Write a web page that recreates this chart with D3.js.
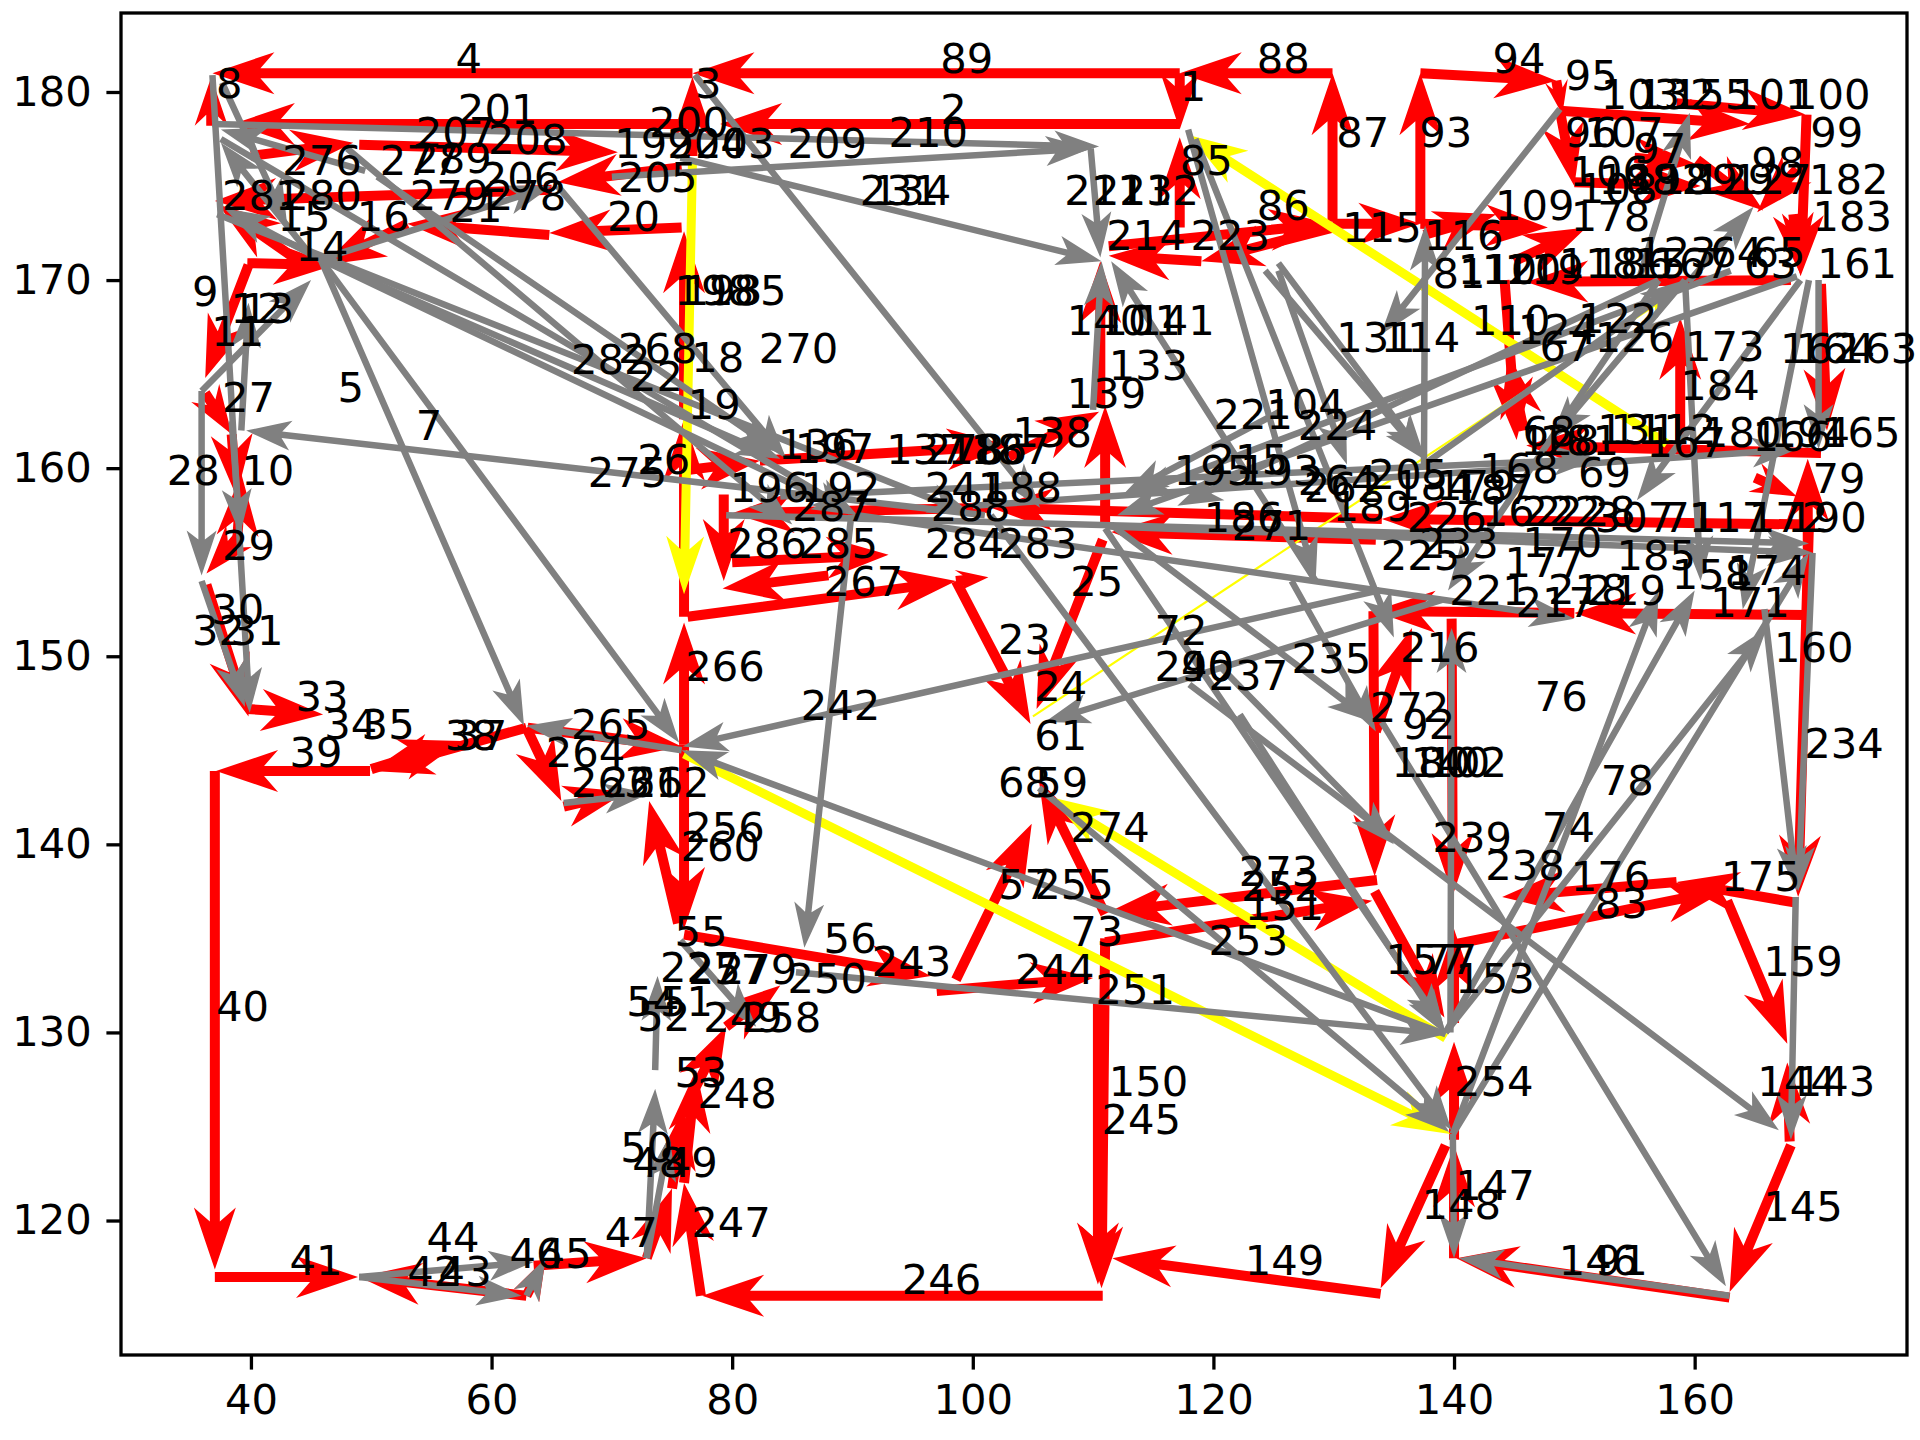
<!DOCTYPE html>
<html>
<head>
<meta charset="utf-8">
<script src="https://cdn.jsdelivr.net/npm/d3@7"></script>
<style>
  body { margin: 0; background: #fff; }
  text { font-family: "DejaVu Sans", sans-serif; }
</style>
</head>
<body>
<div id="root"></div>
<script>
var config = {
  width: 1920,
  height: 1440,
  left: 121,
  right: 1907,
  top: 13,
  bottom: 1355,
  fontSize: 41.7
};

const xDomain = [29.2, 177.65];
const yDomain = [112.85, 184.2];
const xTicks = [40, 60, 80, 100, 120, 140, 160];
const yTicks = [120, 130, 140, 150, 160, 170, 180];

// route arrows: [x0, y0, x1, y1], head at (x1, y1)
const redArrows = [
  [76.7, 181.0, 36.8, 181.0], [117.2, 181.0, 76.7, 181.0], [129.9, 181.0, 117.2, 181.0],
  [129.9, 173.1, 129.9, 181.0], [137.2, 173.0, 137.2, 181.0], [137.2, 181.0, 148.5, 180.6],
  [148.5, 180.6, 149.0, 178.8], [117.2, 181.0, 117.2, 178.0], [117.2, 178.3, 79.0, 178.3],
  [76.7, 178.3, 38.5, 178.3], [36.7, 178.2, 36.7, 180.8], [76.7, 176.6, 76.7, 180.8],
  [117.2, 172.8, 117.2, 177.6],
  [148.8, 179.0, 164.6, 178.3], [158.5, 179.4, 169.2, 178.8], [169.3, 178.8, 168.8, 170.2],
  [160.2, 176.4, 165.7, 173.7], [168.5, 175.9, 165.2, 173.6], [148.8, 179.0, 150.0, 175.0],
  [150.0, 175.2, 160.5, 175.0], [155.0, 176.5, 160.0, 176.2], [168.2, 173.5, 168.8, 170.3],
  [145.0, 171.0, 151.0, 172.8], [130.0, 172.8, 119.0, 171.0], [119.0, 171.0, 111.3, 171.3],
  [111.3, 171.8, 129.8, 173.0], [129.9, 173.0, 137.2, 173.0], [137.2, 173.0, 147.8, 172.8],
  [137.5, 172.4, 143.5, 173.5], [168.0, 170.0, 146.0, 169.9], [144.2, 170.0, 145.2, 161.5],
  [145.8, 162.0, 144.5, 166.0], [158.8, 161.3, 158.8, 168.0], [170.5, 160.8, 146.0, 161.2],
  [170.5, 169.8, 171.0, 162.0], [165.0, 159.5, 168.5, 158.5],
  [40.0, 176.6, 48.5, 177.3], [49.0, 177.2, 70.5, 176.8], [75.8, 176.0, 65.5, 175.2],
  [65.0, 174.8, 37.0, 174.2], [75.8, 172.8, 64.8, 172.5], [64.8, 172.4, 53.0, 173.0],
  [53.0, 173.0, 46.0, 170.8], [39.7, 170.9, 47.0, 170.8], [44.0, 171.0, 37.3, 174.0],
  [39.8, 170.8, 36.2, 164.8], [36.2, 164.0, 38.4, 161.8], [38.4, 161.8, 38.8, 158.5],
  [38.8, 155.5, 39.2, 159.7], [39.0, 156.4, 36.3, 154.4], [36.3, 153.8, 39.8, 146.8],
  [76.0, 152.1, 76.0, 162.6], [76.0, 162.6, 76.0, 172.6], [76.0, 145.3, 76.0, 151.8],
  [76.3, 159.9, 82.3, 160.4], [82.3, 160.4, 103.0, 161.2], [79.3, 158.6, 79.3, 154.0],
  [101.5, 157.9, 80.0, 157.6], [80.0, 155.0, 93.0, 155.4], [88.0, 154.3, 79.2, 153.6],
  [76.3, 152.1, 98.6, 154.0], [98.6, 154.0, 101.3, 154.2],
  [98.6, 154.0, 104.8, 146.4], [110.8, 156.2, 105.3, 147.2], [103.0, 160.6, 110.5, 163.0],
  [111.0, 156.9, 111.0, 163.3], [110.6, 163.3, 110.6, 171.0], [134.0, 157.3, 101.5, 157.9],
  [170.0, 157.0, 134.0, 157.3], [133.5, 156.2, 111.5, 156.6], [169.4, 152.1, 169.4, 160.5],
  [169.4, 152.2, 150.0, 152.3], [150.0, 152.3, 133.3, 152.4], [133.3, 152.4, 133.4, 138.3],
  [139.8, 152.0, 139.9, 137.3], [133.5, 146.0, 136.5, 151.5], [133.4, 137.5, 139.2, 130.8],
  [140.0, 130.5, 140.0, 135.5], [140.0, 124.3, 140.0, 129.5], [133.6, 138.1, 111.3, 136.4],
  [111.0, 134.8, 133.2, 137.0], [111.0, 136.3, 105.5, 143.4], [98.6, 132.8, 104.9, 141.1],
  [76.0, 135.2, 96.5, 133.0], [97.0, 132.2, 110.0, 132.9], [111.0, 135.0, 110.7, 116.4],
  [110.4, 131.6, 110.4, 116.6], [110.8, 116.0, 77.5, 116.0], [77.4, 116.0, 76.0, 122.0],
  [133.9, 116.1, 111.6, 118.0], [139.3, 124.0, 133.9, 116.4], [140.0, 118.0, 140.0, 124.0],
  [162.9, 115.9, 140.2, 118.0], [168.0, 124.0, 162.9, 116.2], [162.7, 137.0, 167.7, 129.4],
  [167.9, 124.2, 167.7, 128.4], [140.1, 134.7, 162.7, 137.6], [168.4, 136.9, 158.5, 138.0],
  [158.5, 138.0, 144.0, 137.2], [169.5, 157.0, 168.6, 137.2],
  [37.0, 143.9, 37.0, 117.4], [37.0, 117.0, 48.9, 117.0], [62.9, 116.0, 49.0, 117.0],
  [62.9, 116.0, 64.5, 118.0], [63.5, 117.6, 72.9, 118.0], [72.9, 118.0, 75.0, 121.7],
  [75.0, 121.7, 76.0, 126.0], [76.5, 126.5, 79.5, 130.3], [79.5, 130.3, 84.0, 132.5],
  [76.0, 122.0, 77.0, 128.0], [39.7, 147.2, 46.0, 146.9], [49.9, 143.9, 37.1, 143.9],
  [62.9, 146.2, 50.0, 143.9], [50.0, 144.0, 57.5, 145.5], [62.9, 146.2, 65.8, 142.3],
  [66.0, 142.0, 71.2, 142.8], [63.0, 146.2, 75.8, 145.2], [75.5, 135.8, 73.1, 142.3],
  [76.0, 145.3, 76.0, 135.5]
];

const yellowArrows = [
  [157.7, 161.3, 118.0, 177.7], [76.0, 144.8, 139.7, 124.6],
  [139.3, 129.7, 106.5, 142.5], [76.7, 176.4, 76.0, 153.3]
];

const yellowThin = [
  [105.0, 146.8, 157.5, 169.0]
];

const grayArrows = [
  [36.8, 180.9, 39.9, 147.0], [37.6, 180.5, 43.0, 173.0], [35.9, 164.1, 45.0, 170.0],
  [35.9, 164.1, 35.9, 154.3], [39.2, 162.0, 39.8, 168.8], [38.4, 162.5, 39.1, 156.5],
  [35.9, 154.0, 39.5, 147.3], [36.8, 178.3, 110.5, 177.1], [45.8, 171.1, 62.7, 146.3],
  [45.8, 171.1, 75.6, 145.4], [45.8, 171.1, 90.4, 157.5], [45.8, 171.1, 84.0, 160.5],
  [101.0, 157.5, 39.6, 162.0], [37.5, 177.5, 90.4, 157.5], [37.2, 173.5, 100.0, 157.5],
  [45.8, 171.1, 65.0, 175.0], [65.5, 175.0, 84.5, 160.5], [48.0, 177.0, 85.0, 157.0],
  [50.5, 175.5, 84.0, 160.8], [45.8, 171.1, 37.8, 173.8], [45.0, 171.3, 37.5, 177.3],
  [49.5, 175.8, 37.5, 178.0], [76.9, 180.9, 105.6, 157.9], [75.7, 176.5, 110.7, 171.0],
  [70.0, 175.5, 109.8, 177.0], [109.8, 177.0, 110.6, 171.2], [110.0, 163.1, 110.7, 171.0],
  [128.5, 154.0, 111.5, 171.0], [117.9, 178.0, 128.5, 154.0], [118.5, 177.5, 135.0, 151.0],
  [85.3, 133.2, 139.3, 129.9], [139.3, 129.9, 75.8, 145.0], [133.8, 153.5, 75.9, 145.2],
  [105.5, 143.0, 139.6, 124.7], [139.3, 130.0, 160.0, 153.5], [139.3, 130.0, 166.0, 151.5],
  [139.7, 130.0, 139.8, 151.5], [139.9, 124.6, 157.0, 153.5], [139.9, 124.6, 169.5, 155.5],
  [139.9, 124.6, 140.0, 118.0], [169.8, 155.5, 168.6, 137.5], [165.8, 152.5, 168.5, 137.5],
  [118.0, 148.5, 167.0, 124.8], [134.0, 146.5, 162.6, 116.5], [111.0, 156.8, 139.2, 130.2],
  [162.9, 116.0, 140.4, 118.0], [168.4, 137.2, 168.0, 124.3], [148.8, 179.1, 133.9, 167.1],
  [137.5, 160.2, 137.6, 172.9], [125.4, 170.9, 137.6, 160.5], [170.3, 170.0, 170.3, 161.0],
  [169.5, 170.0, 164.0, 152.5], [79.5, 157.5, 169.5, 156.0], [84.0, 158.5, 152.0, 160.5],
  [90.4, 157.5, 150.0, 152.0], [100.0, 158.0, 168.5, 161.0], [111.3, 156.9, 169.8, 155.5],
  [168.5, 170.2, 112.0, 157.5], [163.0, 170.5, 113.0, 158.5], [157.0, 170.0, 117.0, 158.0],
  [157.0, 170.0, 139.5, 153.5], [155.5, 170.3, 159.6, 178.9], [159.5, 169.9, 164.9, 173.9],
  [159.2, 170.0, 148.0, 161.5], [159.2, 170.0, 160.5, 154.0], [168.8, 170.0, 155.2, 158.3],
  [124.3, 170.5, 137.7, 160.4], [125.4, 170.5, 131.1, 160.2], [137.5, 160.2, 159.2, 170.0],
  [125.5, 163.0, 112.5, 158.6], [89.9, 157.5, 86.0, 134.5], [101.5, 157.5, 139.8, 124.8],
  [111.5, 157.0, 133.2, 146.5], [139.0, 153.0, 106.0, 146.5], [126.5, 154.0, 133.5, 146.0],
  [122.2, 146.9, 139.3, 129.9], [120.5, 149.5, 135.0, 140.0], [75.8, 145.0, 62.9, 146.3],
  [66.0, 142.2, 73.1, 142.7], [72.9, 118.0, 73.6, 127.0], [73.6, 128.0, 73.8, 133.0],
  [75.7, 134.9, 82.0, 130.3], [49.0, 117.0, 63.5, 117.8], [49.0, 117.0, 62.5, 116.0],
  [62.9, 116.0, 64.5, 118.0], [72.9, 118.0, 74.8, 124.5]
];

// node labels: [text, x, y] (left, baseline)
const labels = [
  ["4", 57.0, 181.0], ["8", 37.1, 179.7], ["201", 57.2, 178.3], ["207", 53.7, 177.1], ["208", 59.7, 176.7],
  ["276", 42.6, 175.6], ["277", 50.7, 175.6], ["289", 53.4, 175.7], ["206", 59.1, 174.7], ["199", 70.2, 176.5],
  ["200", 73.1, 177.6], ["204", 74.6, 176.5], ["205", 70.5, 174.7], ["20", 69.6, 172.6], ["281", 37.6, 173.7],
  ["280", 42.6, 173.7], ["15", 42.2, 172.6], ["14", 43.7, 171.0], ["16", 48.8, 172.6], ["279", 53.2, 173.7],
  ["21", 56.5, 173.1], ["278", 59.6, 173.7], ["9", 35.1, 168.6], ["11", 36.7, 166.5], ["12", 38.3, 167.7],
  ["13", 39.2, 167.7], ["27", 37.6, 163.0], ["28", 33.0, 159.1], ["10", 39.2, 159.1], ["29", 37.6, 155.1],
  ["30", 36.7, 151.7], ["32", 35.1, 150.6], ["31", 38.3, 150.6], ["5", 47.2, 163.5], ["7", 53.7, 161.5],
  ["282", 66.6, 165.0], ["268", 70.5, 165.6], ["22", 71.5, 164.1], ["18", 76.6, 165.1], ["19", 76.3, 162.6],
  ["275", 68.0, 159.0], ["26", 72.1, 159.7], ["198", 75.2, 168.7], ["193", 75.9, 168.7], ["185", 77.9, 168.7],
  ["3", 76.9, 179.7], ["89", 97.3, 181.0], ["1", 117.2, 179.5], ["2", 97.3, 178.3], ["210", 93.0, 177.1],
  ["209", 84.6, 176.5], ["203", 76.9, 176.5], ["231", 90.6, 174.0], ["134", 91.6, 174.0], ["211", 107.6, 174.0],
  ["213", 110.0, 174.0], ["212", 112.2, 174.0], ["85", 117.2, 175.6], ["214", 111.1, 171.6], ["223", 118.1, 171.6],
  ["270", 82.2, 165.6], ["140", 107.8, 167.1], ["101", 110.7, 167.1], ["141", 113.5, 167.1], ["133", 111.3, 164.7],
  ["139", 107.8, 163.2], ["138", 103.3, 161.1], ["136", 83.8, 160.5], ["197", 85.2, 160.3], ["137", 92.8, 160.2],
  ["278", 96.0, 160.2], ["186", 97.9, 160.2], ["187", 99.8, 160.2], ["196", 79.8, 158.2], ["192", 85.7, 158.2],
  ["287", 85.0, 157.2], ["241", 96.0, 158.2], ["188", 100.8, 158.2], ["288", 96.5, 157.2], ["286", 79.6, 155.2],
  ["285", 85.5, 155.2], ["284", 96.0, 155.2], ["283", 102.1, 155.2], ["267", 87.6, 153.2], ["266", 76.1, 148.7],
  ["23", 102.1, 150.1], ["25", 108.1, 153.2], ["24", 105.1, 147.6], ["72", 115.1, 150.6], ["240", 115.1, 148.7],
  ["90", 117.3, 148.7], ["237", 119.6, 148.2], ["242", 85.7, 146.6], ["221", 120.0, 162.1], ["195", 116.7, 159.1],
  ["215", 119.6, 159.7], ["186", 119.2, 156.6], ["271", 121.5, 156.2],
  ["88", 123.6, 181.0], ["94", 143.2, 181.0], ["95", 149.2, 180.1], ["87", 130.2, 177.1], ["93", 137.1, 177.1],
  ["103", 152.2, 179.1], ["132", 155.2, 179.1], ["155", 158.1, 179.1], ["101", 163.1, 179.1], ["100", 168.0, 179.1],
  ["99", 169.6, 177.1], ["96", 149.2, 177.1], ["107", 150.8, 177.1], ["97", 154.9, 176.2], ["98", 164.7, 175.5],
  ["182", 169.5, 174.6], ["127", 163.1, 174.6], ["129", 160.0, 174.6], ["189", 157.0, 174.6], ["106", 149.6, 175.0],
  ["108", 150.3, 174.1], ["188", 152.0, 174.6], ["192", 154.5, 174.6], ["183", 169.8, 172.6], ["178", 149.7, 172.6],
  ["109", 143.4, 173.2], ["115", 130.7, 172.0], ["116", 137.5, 171.6], ["86", 123.6, 173.2], ["81", 138.2, 169.6],
  ["110", 140.3, 169.8], ["120", 142.3, 169.8], ["119", 144.2, 169.8], ["118", 148.7, 170.1], ["186", 151.6, 170.1],
  ["157", 154.9, 170.1], ["167", 156.5, 170.1], ["123", 155.2, 170.7], ["64", 161.3, 170.7], ["65", 164.8, 170.7],
  ["63", 164.1, 170.1], ["161", 170.2, 170.1], ["110", 141.4, 167.1], ["124", 145.3, 166.6], ["122", 150.3, 167.2],
  ["67", 147.1, 165.7], ["126", 151.7, 166.2], ["131", 130.2, 166.2], ["114", 133.9, 166.2], ["173", 159.2, 165.7],
  ["184", 158.8, 163.6], ["162", 167.1, 165.6], ["164", 168.4, 165.6], ["163", 171.9, 165.6], ["165", 170.5, 161.1],
  ["194", 166.3, 161.1], ["166", 164.8, 160.9], ["180", 160.6, 161.1], ["167", 156.0, 160.6], ["131", 151.9, 161.3],
  ["112", 155.2, 161.3], ["111", 153.0, 161.3], ["68", 145.7, 161.2], ["181", 147.1, 160.7], ["128", 145.5, 160.7],
  ["168", 142.1, 159.2], ["69", 150.3, 159.0], ["79", 169.8, 158.7], ["190", 167.7, 156.6], ["117", 159.5, 156.6],
  ["172", 164.5, 156.6], ["307", 151.7, 156.6], ["71", 157.4, 156.6], ["185", 153.5, 154.6], ["170", 145.7, 155.3],
  ["177", 144.2, 154.2], ["158", 158.1, 153.6], ["174", 162.7, 153.8], ["171", 161.3, 152.1], ["221", 139.6, 152.7],
  ["217", 145.1, 152.1], ["218", 147.8, 152.8], ["219", 151.0, 152.7], ["225", 133.9, 154.6], ["233", 137.1, 155.2],
  ["216", 135.5, 149.7], ["235", 126.5, 149.1], ["160", 166.6, 149.7], ["76", 146.7, 147.1], ["224", 127.0, 161.5],
  ["104", 124.3, 162.6], ["193", 122.2, 159.1], ["262", 127.5, 158.2], ["189", 129.9, 157.2], ["205", 132.9, 158.9],
  ["187", 140.0, 158.1], ["226", 136.1, 156.6], ["162", 142.3, 156.9], ["222", 145.6, 156.9], ["228", 148.5, 156.9],
  ["264", 127.0, 158.6], ["184", 135.0, 158.3], ["179", 138.5, 158.3],
  ["33", 43.7, 147.1], ["34", 46.1, 145.6], ["35", 49.2, 145.6], ["39", 43.2, 144.1], ["38", 56.1, 145.0],
  ["37", 56.9, 145.0], ["265", 66.6, 145.6], ["264", 64.5, 144.1], ["263", 66.6, 142.5], ["261", 69.2, 142.5],
  ["262", 71.5, 142.5], ["40", 37.1, 130.6], ["55", 75.2, 134.6], ["227", 74.0, 132.7], ["54", 71.2, 130.9],
  ["51", 74.0, 130.9], ["52", 72.1, 130.1], ["53", 75.2, 127.1], ["50", 70.7, 123.1], ["48", 71.7, 122.3],
  ["49", 74.4, 122.3], ["41", 43.2, 117.1], ["44", 54.6, 118.3], ["42", 53.0, 116.5], ["43", 55.6, 116.5],
  ["46", 61.5, 117.5], ["45", 63.9, 117.5], ["47", 69.4, 118.6], ["247", 76.6, 119.1],
  ["61", 105.1, 145.0], ["68", 102.1, 142.5], ["59", 105.2, 142.5], ["274", 108.1, 140.1], ["256", 76.1, 140.1],
  ["260", 75.7, 139.1], ["57", 102.1, 137.1], ["255", 105.1, 137.1], ["73", 108.1, 134.6], ["253", 119.6, 134.1],
  ["273", 122.1, 137.8], ["252", 122.3, 137.0], ["151", 122.6, 136.0], ["56", 87.6, 134.2], ["243", 91.6, 133.0],
  ["250", 84.6, 132.1], ["244", 103.5, 132.6], ["251", 110.2, 131.5], ["257", 76.3, 132.6], ["279", 78.8, 132.6],
  ["249", 77.6, 130.0], ["258", 80.8, 130.0], ["248", 77.1, 126.0], ["150", 111.3, 126.6], ["245", 110.7, 124.6],
  ["246", 94.1, 116.1],
  ["272", 133.0, 146.5], ["92", 135.7, 145.6], ["180", 134.8, 143.6], ["140", 136.4, 143.6], ["102", 137.8, 143.6],
  ["234", 169.1, 144.6], ["78", 152.2, 142.6], ["74", 147.3, 140.1], ["239", 138.2, 139.6], ["238", 142.6, 138.1],
  ["176", 149.7, 137.5], ["83", 151.7, 136.1], ["175", 162.2, 137.5], ["159", 165.7, 133.0], ["157", 134.3, 133.1],
  ["77", 137.5, 133.1], ["153", 140.1, 132.1], ["254", 140.0, 126.6], ["144", 165.2, 126.6], ["143", 168.4, 126.6],
  ["147", 140.1, 121.1], ["148", 137.3, 120.1], ["145", 165.7, 120.0], ["149", 122.6, 117.1], ["146", 148.7, 117.1],
  ["91", 151.7, 117.1]
];

const x = d3.scaleLinear().domain(xDomain).range([config.left, config.right]);
const y = d3.scaleLinear().domain(yDomain).range([config.bottom, config.top]);

const styles = {
  red: { w: 10, hw: 42, hl: 62, hal: 48, fill: '#ff0000' },
  gray: { w: 6.5, hw: 30, hl: 45, hal: 36, fill: '#808080' },
  yellow: { w: 9, hw: 38, hl: 58, hal: 45, fill: '#ffff00' },
  thin: { w: 2.2, hw: 10, hl: 15, hal: 12, fill: '#ffff00' }
};

// quiver-like arrow outline in pixel space
function arrowPoints(d, st) {
  const x1 = x(d[0]), y1 = y(d[1]), x2 = x(d[2]), y2 = y(d[3]);
  const dx = x2 - x1, dy = y2 - y1;
  const len = Math.hypot(dx, dy);
  if (len < 1) return null;
  const k = Math.min(1, len / st.hl);
  const hl = st.hl * k, hal = st.hal * k, hw = st.hw * k / 2, w = st.w / 2;
  const ux = dx / len, uy = dy / len, nx = -uy, ny = ux;
  const pt = (a, b) => [x1 + ux * a + nx * b, y1 + uy * a + ny * b];
  return [pt(0, w), pt(len - hal, w), pt(len - hl, hw), pt(len, 0),
          pt(len - hl, -hw), pt(len - hal, -w), pt(0, -w)];
}

const chart = d3.select('#root')
  .append('svg:svg')
  .attr('width', config.width)
  .attr('height', config.height);

chart.append('rect')
  .attr('width', config.width)
  .attr('height', config.height)
  .attr('fill', '#fff');

const layer = {};

function drawArrows(g, data, st) {
  g.selectAll('path')
    .data(data)
    .enter()
      .append('svg:path')
      .attr('d', d => {
        const p = arrowPoints(d, st);
        return p ? d3.line()(p) + 'Z' : '';
      })
      .attr('fill', st.fill)
      .attr('stroke', 'none');
}

layer.red = chart.append('svg:g');
drawArrows(layer.red, redArrows, styles.red);

layer.yellow = chart.append('svg:g');
drawArrows(layer.yellow, yellowArrows, styles.yellow);
drawArrows(layer.yellow.append('g'), yellowThin, styles.thin);

layer.gray = chart.append('svg:g');
drawArrows(layer.gray, grayArrows, styles.gray);

layer.labels = chart.append('svg:g');
layer.labels.selectAll('text')
  .data(labels)
  .enter()
    .append('svg:text')
    .attr('x', d => x(d[1]))
    .attr('y', d => y(d[2]))
    .attr('font-size', config.fontSize)
    .attr('fill', '#000')
    .text(d => d[0]);

// axes
const xAxis = d3.axisBottom(x).tickValues(xTicks).tickSize(14.6).tickPadding(14.6);
const yAxis = d3.axisLeft(y).tickValues(yTicks).tickSize(14.6).tickPadding(14.6);

const gx = chart.append('g')
  .attr('transform', `translate(0,${config.bottom})`)
  .call(xAxis);
const gy = chart.append('g')
  .attr('transform', `translate(${config.left},0)`)
  .call(yAxis);

[gx, gy].forEach(g => {
  g.select('.domain').remove();
  g.selectAll('line').attr('stroke', '#000').attr('stroke-width', 3.3);
  g.selectAll('text')
    .attr('font-size', config.fontSize)
    .attr('font-family', '"DejaVu Sans", sans-serif')
    .attr('fill', '#000');
});

chart.append('rect')
  .attr('x', config.left)
  .attr('y', config.top)
  .attr('width', config.right - config.left)
  .attr('height', config.bottom - config.top)
  .attr('fill', 'none')
  .attr('stroke', '#000')
  .attr('stroke-width', 3.3);
</script>
</body>
</html>
